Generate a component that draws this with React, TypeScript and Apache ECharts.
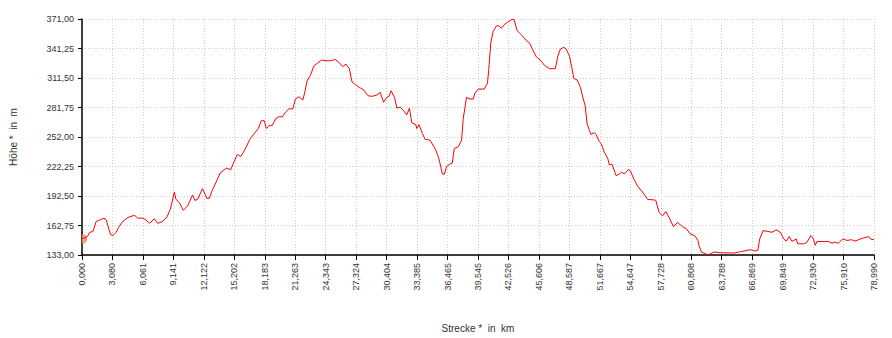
import React, { useEffect, useRef } from "react";
import * as echarts from "echarts";

const xTickLabels = [
  "0,000", "3,080", "6,061", "9,141", "12,122", "15,202", "18,183", "21,263", "24,343",
  "27,324", "30,404", "33,385", "36,465", "39,545", "42,526", "45,606", "48,587", "51,667",
  "54,647", "57,728", "60,808", "63,788", "66,869", "69,849", "72,930", "75,910", "78,990",
];

const distKm = [
  0, 0.53, 0.77, 1.09, 1.42, 1.76, 2.19, 2.41, 2.58, 2.85, 3.08, 3.41, 3.65, 4.07, 4.57, 5.24,
  5.56, 6.06, 6.39, 6.73, 7.22, 7.55, 8.05, 8.48, 8.81, 9.21, 9.37, 9.71, 10.1, 10.53, 11.03,
  11.26, 11.53, 12.02, 12.45, 12.69, 13.02, 13.34, 13.78, 14.18, 14.44, 14.83, 15.1, 15.5, 15.83,
  16.17, 16.79, 17.19, 17.59, 17.88, 18.18, 18.38, 18.68, 18.98, 19.31, 19.7, 19.97, 20.3, 20.64,
  21.03, 21.29, 21.63, 22.03, 22.23, 22.45, 22.78, 23.12, 23.45, 23.88, 24.34, 24.77, 25.27, 25.6,
  26.0, 26.33, 26.66, 26.93, 27.25, 27.65, 28.09, 28.52, 28.91, 29.41, 29.74, 30.08, 30.4, 30.63,
  30.83, 31.17, 31.4, 31.73, 32.06, 32.39, 32.66, 32.89, 33.29, 33.39, 33.61, 33.95, 34.21, 34.71,
  35.2, 35.54, 35.7, 35.94, 36.14, 36.37, 36.69, 36.93, 37.13, 37.53, 37.86, 38.02, 38.35, 38.68,
  39.02, 39.18, 39.51, 40.11, 40.44, 40.57, 40.77, 41.0, 41.33, 41.56, 41.83, 42.16, 42.5, 42.89,
  43.09, 43.39, 43.82, 44.31, 44.64, 44.98, 45.31, 45.71, 46.13, 46.63, 47.2, 47.46, 47.72, 48.06,
  48.29, 48.62, 48.85, 49.05, 49.38, 49.71, 49.95, 50.18, 50.38, 50.6, 50.77, 51.1, 51.27, 51.6,
  51.77, 52.1, 52.43, 52.59, 52.86, 53.26, 53.59, 53.82, 54.08, 54.48, 54.68, 55.07, 55.41, 55.91,
  56.41, 57.06, 57.23, 57.56, 57.9, 58.23, 58.55, 58.99, 59.39, 59.88, 60.31, 60.64, 61.1, 61.43,
  61.53, 61.77, 62.2, 62.43, 63.02, 63.69, 65.01, 65.68, 66.34, 66.67, 67.07, 67.4, 67.59, 67.93,
  68.33, 68.82, 69.25, 69.65, 69.98, 70.25, 70.54, 70.81, 71.24, 71.37, 72.04, 72.3, 72.7, 72.96,
  73.13, 73.3, 74.45, 74.79, 75.11, 75.44, 75.88, 76.28, 76.77, 77.1, 77.44, 77.93, 78.43, 78.66,
  78.99,
];

const elevM = [
  149.2, 151.6, 155.9, 156.6, 166.9, 168.2, 170.2, 168.6, 162.6, 153.6, 152.6, 155.9, 160.9, 166.9,
  170.8, 173.1, 170.2, 170.2, 168.2, 164.9, 169.5, 164.9, 166.9, 171.5, 179.1, 196.4, 189.1, 185.8,
  178.1, 182.5, 193.5, 188.1, 189.1, 200.0, 190.1, 190.1, 199.0, 205.7, 215.7, 219.0, 220.6, 219.0,
  225.6, 234.6, 232.3, 237.9, 250.5, 255.5, 260.5, 268.4, 268.4, 260.5, 263.5, 263.8, 270.4, 272.7,
  272.1, 277.1, 280.4, 280.4, 290.3, 292.6, 289.3, 297.6, 308.6, 314.2, 323.5, 326.2, 329.5, 328.9,
  328.9, 330.2, 327.5, 322.9, 325.5, 320.9, 307.6, 305.0, 302.0, 299.6, 293.6, 293.0, 294.3, 297.0,
  287.0, 292.0, 293.0, 298.6, 292.0, 281.1, 282.1, 278.7, 274.4, 281.1, 266.4, 264.4, 260.5, 264.4,
  255.5, 249.8, 248.8, 240.5, 232.3, 225.6, 214.6, 214.6, 222.3, 224.6, 225.6, 240.5, 242.2, 248.8,
  270.4, 292.0, 290.3, 290.3, 296.0, 300.3, 300.3, 306.3, 320.2, 346.8, 358.4, 364.0, 364.3, 361.7,
  365.7, 368.3, 370.5, 370.7, 359.4, 355.1, 349.4, 346.8, 339.4, 332.8, 329.5, 324.2, 320.9, 320.9,
  333.5, 340.8, 342.4, 340.8, 333.5, 321.9, 311.0, 309.6, 302.0, 292.0, 283.7, 265.4, 258.8, 254.5,
  256.5, 254.5, 247.2, 245.5, 236.6, 230.6, 223.9, 224.6, 213.0, 214.7, 216.7, 214.7, 219.0, 218.0,
  209.0, 202.4, 196.4, 189.1, 188.5, 188.1, 175.8, 172.5, 176.8, 170.8, 161.6, 165.9, 161.6, 159.2,
  154.3, 152.6, 147.7, 142.7, 136.0, 134.3, 133.0, 136.0, 135.3, 135.0, 136.3, 137.7, 138.4, 137.0,
  137.7, 149.2, 157.6, 156.9, 155.9, 158.3, 155.9, 149.2, 147.0, 151.6, 146.6, 149.2, 144.3, 144.3,
  145.9, 152.6, 149.2, 142.7, 146.6, 146.6, 144.9, 145.9, 144.9, 149.2, 147.7, 148.4, 147.0, 148.4,
  150.2, 151.6, 149.0, 148.4,
];

const yMin = 133;
const yMax = 371;
const yStep = 29.75;
const xMax = 78.99;

export default function App() {
  const ref = useRef<HTMLDivElement>(null);
  useEffect(() => {
    if (!ref.current) return;
    const chart = echarts.init(ref.current, null, { renderer: "svg" });
    const xStep = xMax / (xTickLabels.length - 1);
    const lineData = distKm.map((d, i) => [d, elevM[i] - yMin]);
    const font = "'Liberation Sans', Arial, sans-serif";
    chart.setOption({
      animation: false,
      grid: { left: 79, right: 18, top: 19, bottom: 80, containLabel: false },
      xAxis: {
        type: "value",
        min: 0,
        max: xMax,
        interval: xStep,
        name: "Strecke *  in  km",
        nameLocation: "middle",
        nameGap: 68,
        nameTextStyle: { fontFamily: font, fontSize: 10, color: "#333" },
        axisLine: { show: true, onZero: false, lineStyle: { color: "#000", width: 1.5 } },
        axisTick: { show: true, length: 5, lineStyle: { color: "#000", width: 1 } },
        axisLabel: {
          rotate: 90,
          margin: 8,
          fontFamily: font,
          fontSize: 9,
          color: "#333",
          formatter: (v: number) => {
            const idx = Math.round(v / xStep);
            return xTickLabels[idx] ?? "";
          },
        },
        splitLine: { show: true, lineStyle: { color: "#cccccc", type: [1, 2], width: 1 } },
      },
      yAxis: {
        type: "value",
        min: 0,
        max: yMax - yMin,
        interval: yStep,
        name: "Höhe *  in  m",
        nameLocation: "middle",
        nameGap: 64,
        nameRotate: 90,
        nameTextStyle: { fontFamily: font, fontSize: 10, color: "#333" },
        axisLine: { show: true, lineStyle: { color: "#000", width: 1.5 } },
        axisTick: { show: true, length: 4, lineStyle: { color: "#000", width: 1 } },
        axisLabel: {
          margin: 8,
          fontFamily: font,
          fontSize: 9,
          color: "#333",
          formatter: (v: number) => (v + yMin).toFixed(2).replace(".", ","),
        },
        splitLine: { show: true, lineStyle: { color: "#cccccc", type: [1, 2], width: 1 } },
      },
      series: [
        {
          type: "line",
          data: lineData,
          showSymbol: false,
          symbol: "none",
          lineStyle: { color: "#ff0000", width: 1 },
          z: 3,
        },
        {
          type: "scatter",
          data: [lineData[0]],
          symbol: "path://M0,0 A5,5 0 0 1 0,10 Z",
          symbolSize: [5, 10],
          symbolOffset: [2.5, 0],
          itemStyle: {
            color: new echarts.graphic.RadialGradient(0.2, 0.5, 0.9, [
              { offset: 0, color: "#ffb08a" },
              { offset: 1, color: "#ee4a1e" },
            ]),
          },
          z: 2,
        },
      ],
    });
    return () => chart.dispose();
  }, []);
  return <div ref={ref} style={{ width: 892, height: 338, position: "absolute", left: 0, top: 0 }} />;
}
